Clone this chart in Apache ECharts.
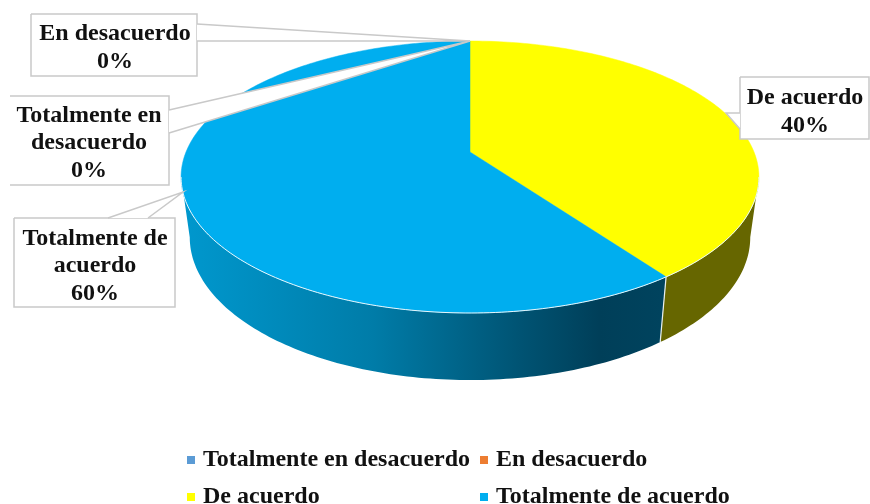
<!DOCTYPE html>
<html>
<head>
<meta charset="utf-8">
<style>html,body{margin:0;padding:0;background:#fff}#c{width:870px;height:504px}</style>
<script src="https://cdn.jsdelivr.net/npm/echarts@6/dist/echarts.min.js"></script>
</head>
<body>
<div id="c"></div>
<script>
const categories = ['Totalmente en desacuerdo', 'En desacuerdo', 'De acuerdo', 'Totalmente de acuerdo'];
const values = [0, 0, 40, 60];
const labelNames = ['Totalmente en\ndesacuerdo', 'En desacuerdo', 'De acuerdo', 'Totalmente de\nacuerdo'];
const topColors = ['#5B9BD5', '#ED7D31', '#FFFF00', '#00AEEF'];

const FONT = '"Liberation Serif", "Times New Roman", serif';
const P = {x0: 470, y0: 152, A: 284, B: 131.4, k: 0.1838, wallSx: 0.97, wallSy: 1.05, wallY: 211};
const total = values.reduce((a, b) => a + b, 0);

function proj(deg) {
  const t = deg * Math.PI / 180, u = Math.sin(t), v = -Math.cos(t), w = 1 - P.k * v;
  return [P.x0 + P.A * u / w, P.y0 + P.B * v / w];
}
function low(p) { return [P.x0 + (p[0] - P.x0) * P.wallSx, (p[1] - P.y0) * P.wallSy + P.wallY]; }
function arc(a, b) {
  const pts = [], n = Math.max(2, Math.ceil(Math.abs(b - a)));
  for (let i = 0; i <= n; i++) pts.push(proj(a + (b - a) * i / n));
  return pts;
}
function sliceRange(i) {
  let s = 0;
  for (let j = 2; j < i; j++) s += values[j];
  if (i < 2) return [0, 0];
  return [s / total * 360, (s + values[i]) / total * 360];
}
const WALL_FROM = 100.6, WALL_TO = 259.4;
const wallFill = [
  null, null,
  '#666600',
  new echarts.graphic.LinearGradient(181, 0, 662, 0, [
    {offset: 0, color: '#0098CE'},
    {offset: 0.4, color: '#007CA8'},
    {offset: 0.7, color: '#005474'},
    {offset: 0.87, color: '#003F59'},
    {offset: 1, color: '#00435E'}
  ], true)
];

function renderSlice(i) {
  return function () {
    const [a, b] = sliceRange(i), kids = [];
    if (b <= a) return {type: 'group', children: []};
    const wa = Math.max(a, WALL_FROM), wb = Math.min(b, WALL_TO);
    if (wb > wa) {
      const up = arc(wa, wb);
      kids.push({type: 'polygon', shape: {points: up.concat(up.map(low).reverse())}, style: {fill: wallFill[i]}});
    }
    const top = [[P.x0, P.y0]].concat(arc(a, b));
    kids.push({type: 'polygon', shape: {points: top}, style: {fill: topColors[i], stroke: topColors[i], lineWidth: 0.5}});
    if (wb > wa) {
      kids.push({type: 'polyline', shape: {points: arc(wa, wb)}, style: {fill: 'none', stroke: '#E8F6FB', lineWidth: 1}});
    }
    if (a > 0 && a > WALL_FROM && a < WALL_TO) {
      const e = proj(a), f = low(e);
      kids.push({type: 'line', shape: {x1: e[0], y1: e[1], x2: f[0], y2: f[1]}, style: {stroke: '#E8F0F0', lineWidth: 1.2}});
    }
    return {type: 'group', children: kids};
  };
}

const callouts = [
  {box: [10, 96, 169, 185], openLeft: true, base: [[169, 110], [169, 133]], cx: 89, cy: 143},
  {box: [31, 14, 197, 76], base: [[197, 24], [197, 41]], cx: 115, cy: 48},
  {box: [740, 77, 869, 139], base: [[740, 113], [740, 129]], tip: [726, 113], cx: 805, cy: 112},
  {box: [14, 218, 175, 307], base: [[108, 218], [148, 218]], tip: [183, 192], cx: 95, cy: 266}
];
const TIP = [470, 41];
const LINE = '#C9C9C9';

function renderCallout(params) {
  const i = params.dataIndex, c = callouts[i], [l, t, r, b] = c.box, tip = c.tip || TIP;
  const pct = Math.round(values[i] / total * 100) + '%';
  const edge = c.openLeft
    ? [[l, t], [r, t], [r, b], [l, b]]
    : [[l, t], [r, t], [r, b], [l, b], [l, t]];
  return {type: 'group', children: [
    {type: 'rect', shape: {x: l, y: t, width: r - l, height: b - t}, style: {fill: '#fff'}},
    {type: 'polyline', shape: {points: edge}, style: {fill: 'none', stroke: LINE, lineWidth: 1.5}},
    {type: 'polygon', shape: {points: [c.base[0], tip, c.base[1]]}, style: {fill: '#fff'}},
    {type: 'polyline', shape: {points: [c.base[0], tip, c.base[1]]}, style: {fill: 'none', stroke: LINE, lineWidth: 1.5}},
    {type: 'text', style: {
      text: labelNames[i] + '\n' + pct, x: c.cx, y: c.cy, align: 'center', verticalAlign: 'middle',
      font: 'bold 24px ' + FONT, lineHeight: 27.5, fill: '#111'
    }}
  ]};
}

const legendPos = [[187, 448], [480, 448], [187, 485], [480, 485]];
const legendGap = [3, 3, 3, 3];
const option = {
  animation: false,
  backgroundColor: '#fff',
  legend: categories.map((name, i) => ({
    data: [{name, icon: 'rect'}],
    left: legendPos[i][0], top: legendPos[i][1],
    itemWidth: 8, itemHeight: 8, itemGap: 0, padding: 0, selectedMode: false,
    textStyle: {fontFamily: FONT, fontWeight: 'bold', fontSize: 24, color: '#111', padding: [0, 0, 0, legendGap[i]]}
  })),
  series: categories.map((name, i) => ({
    type: 'custom', name, coordinateSystem: 'none', silent: true,
    itemStyle: {color: topColors[i]},
    data: [[values[i]]], renderItem: renderSlice(i)
  })).concat([{
    type: 'custom', name: 'etiquetas', coordinateSystem: 'none', silent: true, z: 5,
    data: values.map(v => [v]), renderItem: renderCallout
  }])
};
echarts.init(document.getElementById('c'), null, {renderer: 'canvas'}).setOption(option);
</script>
</body>
</html>
